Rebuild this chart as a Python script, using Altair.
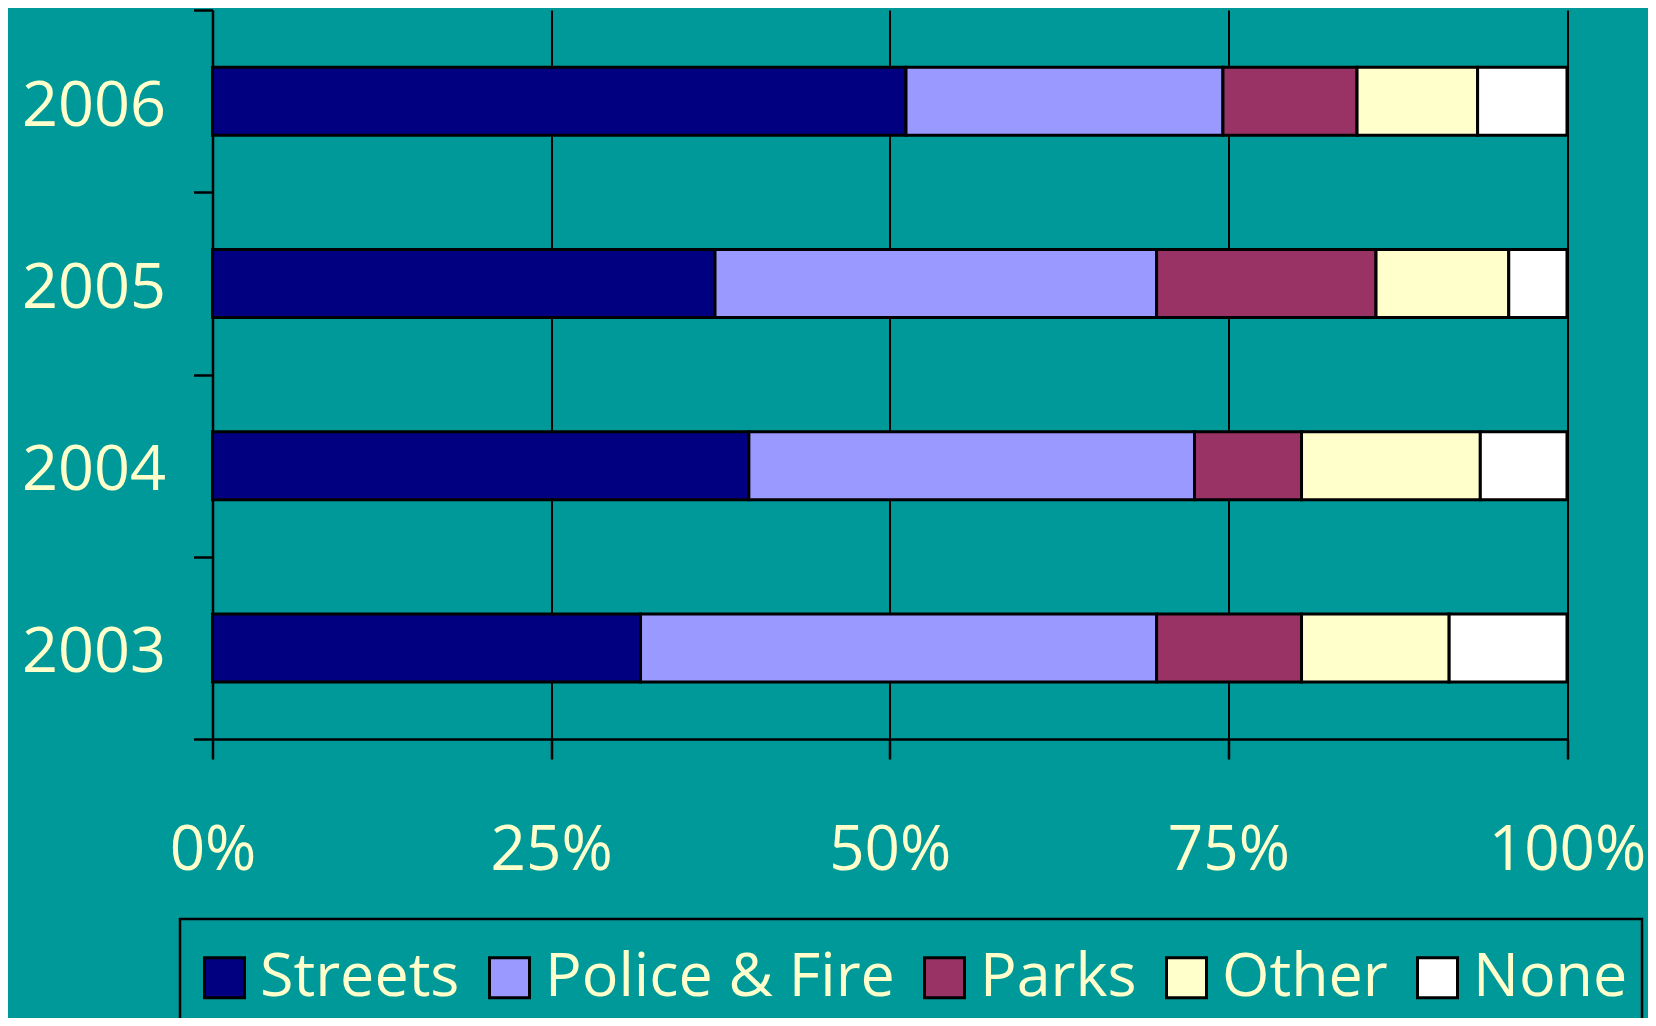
import altair as alt
import pandas as pd

years = ["2006", "2005", "2004", "2003"]
categories = ["Streets", "Police & Fire", "Parks", "Other", "None"]
colors = ["#000080", "#9999FF", "#993366", "#FFFFCC", "#FFFFFF"]
streets = [51.2, 37.1, 39.6, 31.6]
police_fire = [23.4, 32.6, 32.9, 38.1]
parks = [9.9, 16.2, 7.9, 10.7]
other = [8.9, 9.8, 13.2, 10.9]
none_ = [6.6, 4.3, 6.4, 8.7]
x_ticks = [0, 0.25, 0.5, 0.75, 1.0]

series = [streets, police_fire, parks, other, none_]
rows = []
for ci, (cat, vals) in enumerate(zip(categories, series)):
    for y, v in zip(years, vals):
        rows.append({"year": y, "category": cat, "value": v, "order": ci})
df = pd.DataFrame(rows)

TEXT = "#FFFFCC"
FONT = "Open Sans"

chart = alt.Chart(df).mark_bar(size=68, stroke="black", strokeWidth=3).encode(
    y=alt.Y(
        "year:N",
        sort=years,
        scale=alt.Scale(paddingInner=0, paddingOuter=0),
        axis=alt.Axis(
            title=None, tickBand="extent", tickSize=19, tickColor="black",
            tickWidth=2.5, domainColor="black", domainWidth=2.5,
            labelFont=FONT, labelFontSize=63, labelColor=TEXT,
            labelPadding=28, labelOffset=5, grid=False,
        ),
    ),
    x=alt.X(
        "value:Q",
        stack="normalize",
        scale=alt.Scale(domain=[0, 1]),
        axis=alt.Axis(
            title=None, values=x_ticks, format=".0%", grid=True,
            gridColor="black", gridWidth=2, tickSize=20, tickColor="black",
            tickWidth=2.5, domainColor="black", domainWidth=2.5,
            labelFont=FONT, labelFontSize=62, labelColor=TEXT,
            labelPadding=61, labelFlush=False, labelOverlap=False,
        ),
    ),
    color=alt.Color(
        "category:N",
        sort=categories,
        scale=alt.Scale(domain=categories, range=colors),
        legend=alt.Legend(
            title=" ", titleFontSize=1, titlePadding=13,
            orient="none", legendX=-32.5, legendY=909,
            direction="horizontal", columns=5, symbolType="square",
            symbolSize=1600, symbolStrokeColor="black", symbolStrokeWidth=3,
            symbolOpacity=1,
            labelFont=FONT, labelFontSize=61, labelColor=TEXT,
            labelLimit=2000,
            labelOffset=5, columnPadding=19, padding=14,
            strokeColor="black",
        ),
    ),
    order=alt.Order("order:Q"),
).properties(
    width=1354.5,
    height=729,
    padding={"left": 204.5, "top": 2, "right": 81, "bottom": 279},
    autosize=alt.AutoSizeParams(type="none"),
    background="#009999",
).configure_view(strokeWidth=0).configure_legend(strokeWidth=2.5)

chart.save("out.html", embed_options={"renderer": "svg", "actions": False})
